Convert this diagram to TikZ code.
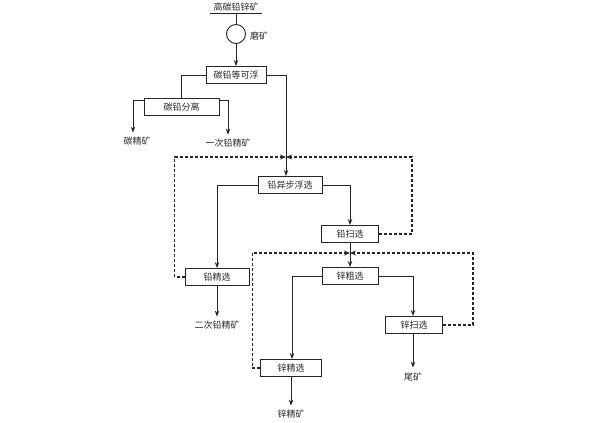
\documentclass[tikz,border=0pt]{standalone}
\usepackage{fontspec}
\newfontfamily\cjk{Noto Sans CJK SC}
\usetikzlibrary{arrows.meta,calc}
\begin{document}
\begin{tikzpicture}[x=1pt,y=-1pt,
  font=\cjk\fontsize{9}{10}\selectfont,
  box/.style={draw=black!85,line width=0.9pt,minimum height=17pt,inner sep=0pt,text=black!85},
  lbl/.style={inner sep=1pt,text=black!85},
  flow/.style={draw=black!85,line width=0.9pt},
  arr/.style={flow,-{Stealth[length=6pt,width=4.5pt]}},
  back/.style={draw=black!85,line width=1.1pt,dash pattern=on 3pt off 2pt,-{Stealth[length=6pt,width=5pt]}}]
\useasboundingbox (0,0) rectangle (600,423);
% feed
\node[lbl] (feed) at (236,7) {高碳铅锌矿};
\coordinate (fl) at (210,13);
\coordinate (fr) at (262,13);
\coordinate (f0) at (236,13);
\draw[flow] (fl) -- (fr);
\node[draw=black!85,line width=0.9pt,circle,minimum size=19pt,inner sep=0pt] (mill) at (236,34) {};
\node[lbl] (milltxt) at (259,36) {磨矿};
\draw[flow] (f0) -- (mill.north);
% boxes
\node[box,minimum width=60pt] (b1) at (236,75) {碳铅等可浮};
\node[box,minimum width=75pt] (b2) at (181.5,107) {碳铅分离};
\node[box,minimum width=64pt] (b3) at (290,185) {铅异步浮选};
\node[box,minimum width=64pt] (b4) at (217,277) {铅精选};
\node[box,minimum width=57pt] (b5) at (350,234) {铅扫选};
\node[box,minimum width=56pt] (b6) at (350,276) {锌粗选};
\node[box,minimum width=61pt] (b7) at (291,368) {锌精选};
\node[box,minimum width=57pt] (b8) at (414,325) {锌扫选};
% product labels
\node[lbl] (t1) at (137,141) {碳精矿};
\node[lbl] (t2) at (228,143) {一次铅精矿};
\node[lbl] (t3) at (217,325) {二次铅精矿};
\node[lbl] (t4) at (413,377) {尾矿};
\node[lbl] (t5) at (291,414) {锌精矿};
% junctions
\coordinate (j1) at (286,157);
\coordinate (j2) at (350,253);
% connectors
\draw[arr] (mill.south) -- (b1.north);
\draw[flow] (b1.west) -| (b2.north);
\draw[arr] ($(b2.north west)+(0,2)$) -| ($(t1.north)+(-4,-3)$);
\draw[arr] ($(b2.north east)+(0,2)$) -| ($(t2.north)+(0,-3)$);
\draw[flow] (b1.east) -| (j1);
\draw[arr] (j1) -- (j1 |- b3.north);
\draw[arr] (b3.west) -| (b4.north);
\draw[arr] (b3.east) -| (b5.north);
\draw[arr] (b4.south) -- ($(t3.north)+(0,-3)$);
\draw[flow] (b5.south) -- (j2);
\draw[arr] (j2) -- (b6.north);
\draw[arr] (b6.west) -| ($(b7.north)+(1,0)$);
\draw[arr] (b6.east) -| ($(b8.north)+(-1,0)$);
\draw[arr] ($(b8.south)+(-1,0)$) -- ($(t4.north)+(0,-4)$);
\draw[arr] (b7.south) -- ($(t5.north)+(0,-3)$);
% recycle (dashed)
\draw[back] (b4.west) -- ++(-10,0) |- (j1);
\draw[back] (b5.east) -- ++(33,0) |- (j1);
\draw[back] (b7.west) -- ++(-8,0) |- (j2);
\draw[back] (b8.east) -- ++(30,0) |- (j2);
\end{tikzpicture}
\end{document}
